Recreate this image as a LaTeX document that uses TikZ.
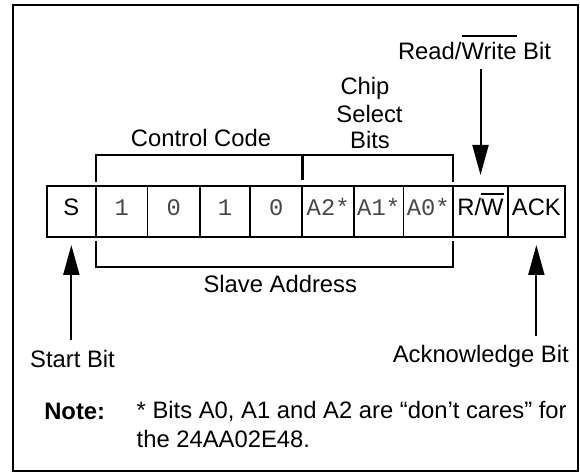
\documentclass[tikz,border=0pt]{standalone}
\usepackage{fontspec}
\setmainfont{Liberation Sans}
\newfontfamily\monof{Liberation Mono}
\usetikzlibrary{arrows.meta,calc}
\newcommand\olw[2]{\vbox{\hrule height 1.8pt\kern #1\hbox{#2}}}
\tikzset{
  fs/.style={font=\fontsize{23.8}{28}\selectfont},
  lbl/.style={fs, inner sep=0pt, outer sep=0pt, anchor=base},
  cell/.style={draw, line width=1.3pt, minimum height=51pt, inner sep=0pt, outer sep=0pt,
               text height=9pt, text depth=0pt, fs},
  bit/.style={cell, font=\fontsize{23.8}{28}\selectfont\monof, text=black!72},
  thk/.style={line width=2.3pt},
  brk/.style={line width=2pt},
  arr/.style={line width=2pt, -{Triangle[length=30pt,width=16pt]}},
}
\begin{document}
\begin{tikzpicture}[x=1pt,y=1pt]
\useasboundingbox (0,0) rectangle (580,473);
\draw[line width=2pt] (12.7,1.5) rectangle (577.5,468);

% cells
\node[cell, minimum width=49.3pt] (c0) at (71.35,261.5) {S};
\node[bit,  minimum width=51.7pt] (c1) at (121.85,261.5) {1};
\node[bit,  minimum width=52.3pt] (c2) at (173.85,261.5) {0};
\node[bit,  minimum width=50pt]   (c3) at (225,261.5) {1};
\node[bit,  minimum width=52.3pt] (c4) at (276.15,261.5) {0};
\node[bit,  minimum width=51.7pt] (c5) at (328.15,261.5) {A2*};
\node[bit,  minimum width=49.3pt] (c6) at (378.65,261.5) {A1*};
\node[bit,  minimum width=50pt]   (c7) at (428.3,261.5) {A0*};
\node[cell, minimum width=54.4pt] (c8) at (480.5,261.5) {R/\olw{4.5pt}{W}};
\node[cell, minimum width=57.3pt] (c9) at (536.35,261.5) {ACK};

\draw[thk] (c0.north west) rectangle (c9.south east);
\draw[thk] (c0.north east) -- (c0.south east);
\draw[thk] (c4.north east) -- (c4.south east);
\draw[thk] (c7.north east) -- (c7.south east);
\draw[thk] (c8.north east) -- (c8.south east);

% top bracket
\draw[brk] ($(c1.north west)+(0,4)$) -- ++(0,27) -| ($(c7.north east)+(0,4)$);
\draw[line width=2.8pt] ($(c5.north west)+(0,6)$) -- ++(0,25);
% bottom bracket
\draw[brk] ($(c1.south west)+(0,-4)$) -- ++(0,-25.7) -| ($(c7.south east)+(0,-4)$);

% labels
\node[lbl] (ctrl) at (201,326) {Control Code};
\node[lbl] (chip1) at (365,378) {Chip};
\node[lbl] (chip2) at (369.5,350.3) {Select};
\node[lbl] (chip3) at (370,324.7) {Bits};
\node[lbl] (rwlbl) at (474.5,413) {Read/\olw{5.5pt}{Write} Bit};
\node[lbl] (slave) at (280.3,180.3) {Slave Address};
\node[lbl] (start) at (72.5,105) {Start Bit};
\node[lbl] (ackl) at (480.8,110) {Acknowledge Bit};
\node[lbl, anchor=base west, font=\fontsize{23.8}{28}\selectfont\bfseries] (note) at (44.3,53) {Note:};
\node[lbl, anchor=base west] (note1) at (136.7,54) {* Bits A0, A1 and A2 are “don’t cares” for};
\node[lbl, anchor=base west] (note2) at (136.7,25) {the 24AA02E48.};

% arrows
\draw[arr] ($(rwlbl.south -| c8.north)+(0,-9)$) -- ($(c8.north)+(0,11)$);
\draw[arr] ($(start.north -| c0.south)+(0,11)$) -- ($(c0.south)+(0,-8)$);
\draw[arr] ($(ackl.north -| c9.south)+(0,10)$) -- ($(c9.south)+(0,-8)$);
\end{tikzpicture}
\end{document}
